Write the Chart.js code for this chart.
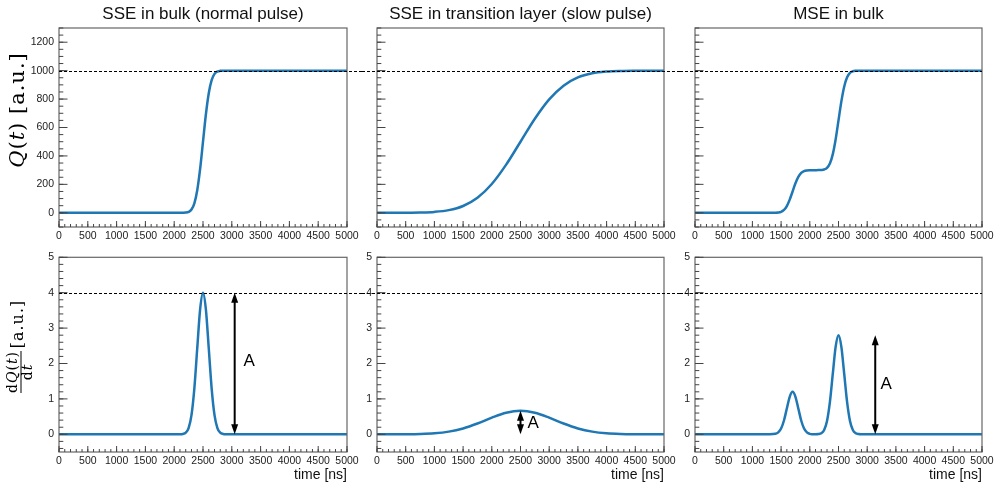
<!DOCTYPE html>
<html>
<head>
<meta charset="utf-8">
<script src="https://cdn.jsdelivr.net/npm/chart.js@4/dist/chart.umd.min.js"></script>
<style>
html,body{margin:0;padding:0;background:#fff;}
#wrap{position:relative;width:998px;height:488px;overflow:hidden;}
#wrap canvas{position:absolute;}
</style>
</head>
<body>
<div id="wrap"></div>
<script>
/* ===== DATA ===== */
const X_TICKS=[0,500,1000,1500,2000,2500,3000,3500,4000,4500,5000];
const Q_TICKS=[0,200,400,600,800,1000,1200];
const DQ_TICKS=[0,1,2,3,4,5];

const TITLES=['SSE in bulk (normal pulse)','SSE in transition layer (slow pulse)','MSE in bulk'];

// single-site event in bulk, normal pulse
const SSE_T =[0,2000,2100,2150,2200,2250,2300,2350,2400,2450,2500,2550,2600,2650,2700,2750,2800,2850,2900,3000,5000];
const SSE_Q =[0,0,0,0.2,1.4,6.2,22.8,66.8,158.7,308.5,500,691.5,841.3,933.2,977.2,993.8,998.7,999.8,1000,1000,1000];
const SSE_DQ=[0,0,0.001,0.009,0.044,0.176,0.541,1.30,2.43,3.53,4,3.53,2.43,1.30,0.541,0.176,0.044,0.009,0.001,0,0];

// single-site event in transition layer, slow pulse
const SLOW_T =[0,250,500,750,1000,1250,1500,1750,2000,2250,2500,2750,3000,3250,3500,3750,4000,4250,4500,4750,5000];
const SLOW_Q =[0,0.1,0.4,1.8,6.2,18.6,47.8,105.6,202.3,338.5,500,661.5,797.7,894.4,952.2,981.4,993.8,998.2,999.6,999.9,1000];
const SLOW_DQ=[0.0001,0.0006,0.0026,0.0095,0.029,0.076,0.166,0.304,0.470,0.610,0.665,0.610,0.470,0.304,0.166,0.076,0.029,0.0095,0.0026,0.0006,0.0001];

// multi-site event in bulk
const MSE_T =[0,1300,1400,1450,1500,1550,1600,1650,1700,1750,1800,1850,1900,1950,2000,2050,2100,2150,2200,2250,2300,2350,2400,2450,2500,2550,2600,2650,2700,2750,2800,2850,2900,3000,5000];
const MSE_Q =[0,0,0.4,1.9,6.8,20.0,47.6,92.6,150,207.4,252.4,280,293.2,298.1,299.6,299.9,300,300.2,300.9,304.3,316,346.8,411.1,516,650,784,889,953.2,984,995.7,999.1,999.8,1000,1000,1000];
const MSE_DQ=[0,0.0004,0.013,0.053,0.162,0.390,0.728,1.059,1.2,1.059,0.728,0.390,0.162,0.053,0.013,0.003,0.001,0.006,0.031,0.123,0.379,0.909,1.698,2.471,2.8,2.471,1.698,0.909,0.379,0.123,0.031,0.006,0.001,0,0];

const TIMES=[SSE_T,SLOW_T,MSE_T];
const CHARGE=[SSE_Q,SLOW_Q,MSE_Q];
const CURRENT=[SSE_DQ,SLOW_DQ,MSE_DQ];

const Q_REF=1000, DQ_REF=4;

// amplitude arrows (time, peak value) and the "A" label beside them
const ARROW_T=[3050,2500,3140];
const ARROW_TOP=[4,0.665,2.8];
const A_T=[3300,2720,3330];
const A_V=[2.05,0.3,1.42];

/* ===== LAYOUT ===== */
const COLS=[{left:0,w:362,axisW:59,padR:15},{left:362,w:318,axisW:15,padR:16},{left:680,w:318,axisW:15,padR:16}];
const ROWS=[{top:0,h:246,padT:28,axisH:19},{top:246,h:242,padT:9,axisH:36}];
const LINE_BLUE='#1f77b4';
const SANS='"Liberation Sans", Arial, sans-serif';
const SERIF='"DejaVu Serif", serif';

/* ===== DRAW HELPERS ===== */
// runs of [text, italic] drawn left to right, centred on (0,0)
function mathRun(ctx,parts,size){
  ctx.letterSpacing='1px';
  let w=0;
  parts.forEach(p=>{ctx.font=(p[1]?'italic ':'')+size+'px '+SERIF;w+=ctx.measureText(p[0]).width;});
  let x=-w/2;
  ctx.textAlign='left';ctx.textBaseline='middle';
  parts.forEach(p=>{ctx.font=(p[1]?'italic ':'')+size+'px '+SERIF;ctx.fillText(p[0],x,0);x+=ctx.measureText(p[0]).width;});
  ctx.letterSpacing='0px';
}
function rotRun(ctx,parts,size,sx,sy){
  ctx.save();ctx.translate(sx,sy);ctx.rotate(-Math.PI/2);mathRun(ctx,parts,size);ctx.restore();
}
function arrow(ctx,x,yBot,yTop){
  const hl=10,hw=3.5;
  ctx.lineWidth=2;
  ctx.beginPath();ctx.moveTo(x,yBot-hl+1);ctx.lineTo(x,yTop+hl-1);ctx.stroke();
  ctx.beginPath();ctx.moveTo(x,yTop);ctx.lineTo(x-hw,yTop+hl);ctx.lineTo(x+hw,yTop+hl);ctx.closePath();ctx.fill();
  ctx.beginPath();ctx.moveTo(x,yBot);ctx.lineTo(x-hw,yBot-hl);ctx.lineTo(x+hw,yBot-hl);ctx.closePath();ctx.fill();
}

// frame, inward ticks, reference line, arrows and labels
const deco={
  id:'deco',
  afterDatasetsDraw(chart,args,o){
    const {ctx,chartArea:a,scales:{x,y}}=chart;
    ctx.save();
    ctx.strokeStyle='#666';ctx.lineWidth=1.2;
    ctx.strokeRect(a.left,a.top,a.right-a.left,a.bottom-a.top);

    // y ticks: majors from list, minors at fixed step
    ctx.lineWidth=1;ctx.strokeStyle='#444';
    ctx.beginPath();
    o.yTicks.forEach(v=>{const p=y.getPixelForValue(v);ctx.moveTo(a.left,p);ctx.lineTo(a.left+8.5,p);});
    for(let i=Math.ceil(y.min/o.yMinor);i*o.yMinor<=y.max+1e-9;i++){
      const p=y.getPixelForValue(i*o.yMinor);ctx.moveTo(a.left,p);ctx.lineTo(a.left+4.3,p);
    }
    X_TICKS.forEach(v=>{const p=x.getPixelForValue(v);ctx.moveTo(p,a.bottom);ctx.lineTo(p,a.bottom-6);});
    for(let i=0;i*100<=x.max;i++){
      const p=x.getPixelForValue(i*100);ctx.moveTo(p,a.bottom);ctx.lineTo(p,a.bottom-3);
    }
    ctx.stroke();

    // dashed reference level running across all three panels
    const ry=Math.round(y.getPixelForValue(o.ref))+0.5;
    ctx.strokeStyle='#000';ctx.lineWidth=1;ctx.setLineDash([3,2]);
    ctx.beginPath();ctx.moveTo(o.col===0?a.left:0,ry);ctx.lineTo(o.col===2?a.right:chart.width,ry);ctx.stroke();
    ctx.setLineDash([]);

    ctx.fillStyle='#000';ctx.strokeStyle='#000';
    if(o.arrow){
      const c=o.col;
      arrow(ctx,x.getPixelForValue(ARROW_T[c]),y.getPixelForValue(0),y.getPixelForValue(ARROW_TOP[c]));
      ctx.font='17px '+SANS;ctx.textAlign='center';ctx.textBaseline='middle';
      ctx.fillText('A',x.getPixelForValue(A_T[c]),y.getPixelForValue(A_V[c]));
    }
    if(o.title){
      ctx.fillStyle='#111';ctx.font='17px '+SANS;ctx.textAlign='center';ctx.textBaseline='middle';
      ctx.fillText(o.title,(a.left+a.right)/2,14);
    }
    // axis titles, in canvas coordinates of their own row
    ctx.fillStyle='#000';
    if(o.ylab==='Q'){
      rotRun(ctx,[['Q',1],['(',0],['t',1],[')',0],[' [a.u.]',0]],21,19,110);
    }else if(o.ylab==='dQ'){
      rotRun(ctx,[['[a.u.]',0]],16,19,78);
      rotRun(ctx,[['d',0],['Q',1],['(',0],['t',1],[')',0]],14,13,126);
      rotRun(ctx,[['d',0],['t',1]],14,28.5,126);
      ctx.fillRect(20.5,105,1,42);
    }
    ctx.restore();
  }
};

/* ===== PANELS ===== */
function panel(row,col){
  const C=COLS[col],R=ROWS[row];
  const cv=document.createElement('canvas');
  cv.width=C.w;cv.height=R.h;
  cv.style.left=C.left+'px';cv.style.top=R.top+'px';
  document.getElementById('wrap').appendChild(cv);
  const isQ=row===0;
  const vals=isQ?CHARGE[col]:CURRENT[col];
  const pts=TIMES[col].map((t,i)=>({x:t,y:vals[i]}));
  const tickFont={family:SANS,size:10.5};
  new Chart(cv,{
    type:'line',
    data:{datasets:[{data:pts,borderColor:LINE_BLUE,borderWidth:2.5,pointRadius:0,
      cubicInterpolationMode:'monotone',fill:false}]},
    options:{
      responsive:false,animation:false,events:[],
      layout:{padding:{top:R.padT,right:C.padR,left:0,bottom:0}},
      plugins:{
        legend:{display:false},tooltip:{enabled:false},
        deco:{col,ref:isQ?Q_REF:DQ_REF,yTicks:isQ?Q_TICKS:DQ_TICKS,yMinor:isQ?50:0.2,
          arrow:!isQ,title:isQ?TITLES[col]:null,ylab:col===0?(isQ?'Q':'dQ'):null}
      },
      scales:{
        x:{type:'linear',min:0,max:5000,
          afterBuildTicks:s=>{s.ticks=X_TICKS.map(v=>({value:v}));},
          afterFit:s=>{s.height=R.axisH;},
          grid:{display:false,drawTicks:false},border:{display:false},
          ticks:{color:'#222',font:tickFont,padding:3,autoSkip:false,maxRotation:0,callback:v=>String(v)},
          title:{display:!isQ,text:'time [ns]',align:'end',color:'#111',font:{family:SANS,size:14},padding:{top:0,bottom:4}}
        },
        y:{type:'linear',min:isQ?-100:-0.5,max:isQ?1300:5,
          afterBuildTicks:s=>{s.ticks=(isQ?Q_TICKS:DQ_TICKS).map(v=>({value:v}));},
          afterFit:s=>{s.width=C.axisW;},
          grid:{display:false,drawTicks:false},border:{display:false},
          ticks:{display:!(isQ&&col>0),color:'#222',font:tickFont,padding:5,callback:v=>String(v)}
        }
      }
    },
    plugins:[deco]
  });
}

for(let r=0;r<2;r++)for(let c=0;c<3;c++)panel(r,c);
</script>
</body>
</html>
